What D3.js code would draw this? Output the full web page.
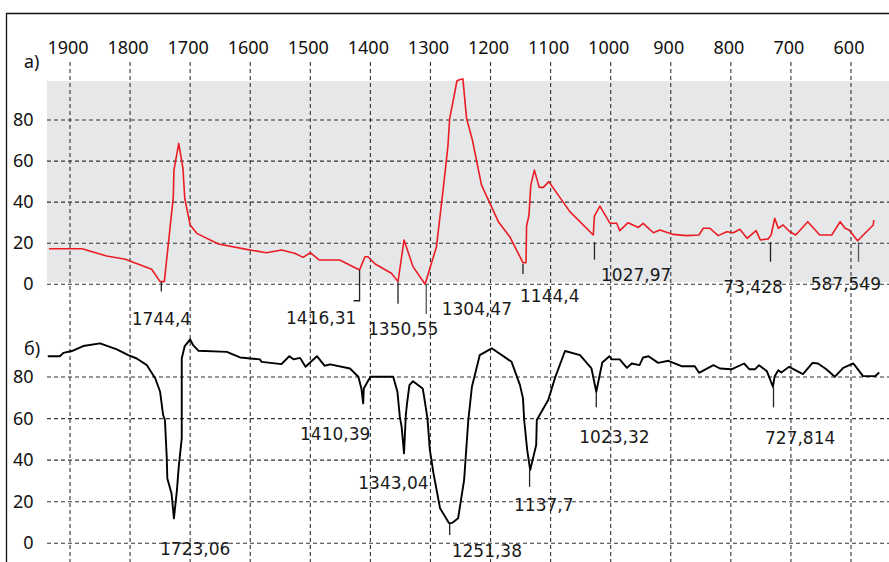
<!DOCTYPE html>
<html><head><meta charset="utf-8">
<script src="https://cdn.jsdelivr.net/npm/d3@7/dist/d3.min.js"></script>
<style>html,body{margin:0;padding:0;background:#fff;}svg{display:block;}</style>
</head><body>
<script>
// ---------- data ----------
const xTicks = [1900,1800,1700,1600,1500,1400,1300,1200,1100,1000,900,800,700,600];
const yTicks = [0,20,40,60,80];

// spectrum a) (red)
const waveA = [1935,1880,1839,1808,1764,1750,1743,1728,1727,1719,1712,1709,1700,1689,1653,1606,1573,1548,1526,1512,1500,1485,1451,1418,1409,1404,1392,1365,1354,1344,1329,1309,1290,1279,1271,1268,1262,1256,1252,1246,1240,1230,1215,1187,1168,1146,1141,1140,1136,1133,1127,1119,1112,1103,1068,1029,1027,1018,1001,990,985,971,954,946,929,918,896,874,853,846,835,821,807,796,785,773,758,751,738,733,727,721,713,702,692,672,652,632,618,610,603,589,563,562];
const valA = [17.3,17.3,13.8,12.2,7.3,1.3,1.3,42.6,55.6,68.6,56.5,41.9,28.9,24.8,19.6,17,15.4,16.7,15.1,13.1,15.4,11.8,11.8,7,13.4,13.4,9.9,5.4,1.3,21.6,8.6,0,18.3,45.9,67,80.8,89.7,99,99.6,100,81,70,48.3,30.5,23.2,10.5,10.5,28.4,33.7,48.3,55.6,47.2,47.2,50,35.4,24,33.3,38.1,29.7,29.7,26.1,30,27.7,29.7,25.1,26.4,24.3,23.7,24,27.3,27.3,23.7,25.6,25.1,26.8,22.4,26.1,21.6,22.1,24,32.1,27.3,28.9,25.6,24,30.5,24,24,30.5,27.3,26.4,21.2,28.9,31.3];

// spectrum б) (black)
const waveB = [1937,1917,1911,1897,1878,1850,1822,1803,1789,1772,1758,1750,1745,1742,1739,1738,1731,1727,1722,1719,1714,1714,1709,1700,1695,1686,1639,1617,1584,1581,1548,1535,1528,1517,1508,1489,1476,1467,1434,1420,1415,1412,1411,1400,1362,1355,1351,1348,1344,1341,1339,1335,1329,1313,1311,1305,1301,1295,1284,1269,1264,1254,1244,1237,1231,1218,1198,1165,1151,1146,1144,1139,1134,1124,1123,1104,1093,1076,1051,1032,1024,1014,1002,998,985,973,965,952,946,937,921,904,882,860,853,829,818,799,778,769,760,753,740,730,727,721,716,703,680,664,655,641,627,613,596,591,580,560,553];
const valB = [90,90,91.6,92.5,94.9,96.2,93.3,90.5,88.9,85.7,79.3,72.9,61.7,59.3,41.6,31.2,24,12,25.6,36.8,50.5,88.9,94.9,98.1,95.3,92.6,92.1,89.4,88.5,87.3,86.2,90,88.5,89.2,84.9,90,85.4,86.1,84.1,80.1,74.5,67.3,74.5,80.1,80.1,72.9,60.9,56,43.3,61.7,67.3,76.1,78,74.5,71.3,60.1,44.9,33.7,16.8,9.6,9.8,12,30.4,59.3,75.3,90.5,93.8,87.3,76.1,69.7,59.3,44.9,35.2,47.3,59.3,68.9,79.3,92.5,90.5,84.1,72.9,87,90,88.5,88.5,84.4,86.5,85.7,89.4,90,86.8,87.8,85.2,85.2,82,85.7,84.1,83.7,86.5,83.7,83.7,85.7,82.8,75.3,80.4,83.3,82.2,84.9,81.4,86.8,86.5,83.7,80.1,84.4,86.5,84.6,80.4,80.4,82.2];

// peak annotations
const peaksA = ["1744,4","1416,31","1350,55","1304,47","1144,4","1027,97","73,428","587,549"];
const peakWaveA = [1748,1418,1354,1307,1146,1027,734,587.5];
const peakTickA = [[1.2,-3.5],[7,-8],[1,-9.5],[0,-14.5],[10,5],[20.5,12],[20.5,11],[20.5,11]];

const peaksB = ["1723,06","1410,39","1343,04","1251,38","1137,7","1023,32","727,814"];
const peakWaveB = [1727,1412,1344,1268,1135,1024,729];
const peakTickB = [null,null,null,[9.6,4],[35.2,27.2],[72.9,65.4],[75.3,65.4]];

// ---------- layout ----------
const W = 889, H = 562;
const labelPosA = [[131.7,325],[286,324.3],[368,335],[441.7,315],[520,301.7],[601,280.7],[723.3,293.3],[810.7,290]];
const labelPosB = [[160,555],[300,440],[358.3,489],[451.7,557.3],[514,511],[579.3,442.7],[765,444.3]];

const svg = d3.select("body").append("svg").attr("width",W).attr("height",H);

const x = d3.scaleLinear().domain([1900,600]).range([70,851]);
const yA = d3.scaleLinear().domain([0,80]).range([284.3,120]);
const yB = d3.scaleLinear().domain([0,80]).range([543.3,377]);

// frame
svg.append("path").attr("d","M6.5,562V13.5H889").attr("fill","none").attr("stroke","#111").attr("stroke-width",1.3);

// gray panel a)
svg.append("rect").attr("x",47).attr("y",yA(99)).attr("width",W-47).attr("height",yA(0)-2-yA(99)).attr("fill","#e6e7e9");

const grid = svg.append("g").attr("stroke","#333").attr("stroke-width",1.1).attr("stroke-dasharray","4,3");
// vertical grid
grid.selectAll("line.v").data(xTicks).join("line")
  .attr("x1",d=>x(d)).attr("x2",d=>x(d)).attr("y1",62).attr("y2",H);
// horizontal grid
yTicks.forEach(t=>{
  grid.append("line").attr("x1",47).attr("x2",W).attr("y1",yA(t)).attr("y2",yA(t));
  grid.append("line").attr("x1",47).attr("x2",W).attr("y1",yB(t)).attr("y2",yB(t));
});

const fAxis = "'Noto Sans', 'Open Sans', sans-serif";
const fAnn = "'DejaVu Sans', sans-serif";

// top axis labels
svg.append("g").selectAll("text").data(xTicks).join("text")
  .attr("x",d=>x(d)-2).attr("y",54).attr("text-anchor","middle")
  .attr("font-family",fAxis).attr("font-size",18).attr("fill","#111").text(d=>d);

// y labels
[yA,yB].forEach(ys=>{
  svg.append("g").selectAll("text").data(yTicks).join("text")
    .attr("x",33.5).attr("y",d=>ys(d)+6).attr("text-anchor","end")
    .attr("font-family",fAxis).attr("font-size",18).attr("fill","#111").text(d=>d);
});

// panel labels
svg.append("text").attr("x",24).attr("y",68).attr("font-family",fAxis).attr("font-size",18).attr("fill","#111").text("а)");
svg.append("text").attr("x",24).attr("y",355).attr("font-family",fAxis).attr("font-size",18).attr("fill","#111").text("б)");

// curves
const lineA = d3.line().x((d,i)=>x(waveA[i])).y(d=>yA(d));
const lineB = d3.line().x((d,i)=>x(waveB[i])).y(d=>yB(d));
svg.append("path").attr("d",lineA(valA)).attr("fill","none").attr("stroke","#ec1c24").attr("stroke-width",1.6).attr("stroke-linejoin","round");
svg.append("path").attr("d",lineB(valB)).attr("fill","none").attr("stroke","#000").attr("stroke-width",1.9).attr("stroke-linejoin","round");

// peak ticks
const ticks = svg.append("g").attr("stroke","#222").attr("stroke-width",1.3).attr("fill","none");
peakTickA.forEach((t,i)=>{
  const px = x(peakWaveA[i]);
  if(i===1){
    ticks.append("path").attr("d",`M${px},${yA(t[0])}V${yA(t[1])}h-6`);
  } else {
    ticks.append("line").attr("x1",px).attr("x2",px).attr("y1",yA(t[0])).attr("y2",yA(t[1]))
      .attr("stroke", (i===3||i===7)?"#555":"#222");
  }
});
peakTickB.forEach((t,i)=>{
  if(!t) return;
  const px = x(peakWaveB[i]);
  ticks.append("line").attr("x1",px).attr("x2",px).attr("y1",yB(t[0])).attr("y2",yB(t[1]));
});

// peak labels
svg.append("g").selectAll("text").data(peaksA).join("text")
  .attr("x",(d,i)=>labelPosA[i][0]).attr("y",(d,i)=>labelPosA[i][1])
  .attr("font-family",fAnn).attr("font-size",17).attr("fill","#1a1a1a").text(d=>d);
svg.append("g").selectAll("text").data(peaksB).join("text")
  .attr("x",(d,i)=>labelPosB[i][0]).attr("y",(d,i)=>labelPosB[i][1])
  .attr("font-family",fAnn).attr("font-size",17).attr("fill","#1a1a1a").text(d=>d);
</script>
</body></html>
